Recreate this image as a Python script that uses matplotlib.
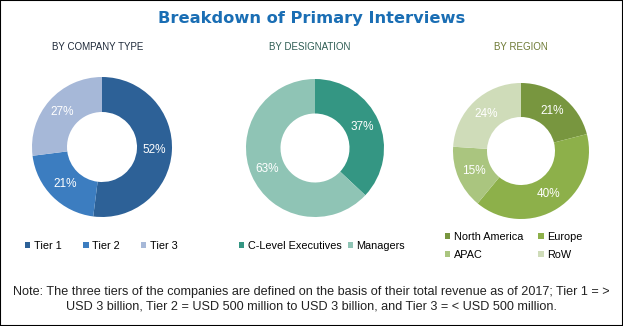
import matplotlib.pyplot as plt
from matplotlib.patches import Rectangle

W, H = 623, 326

# data
company_labels = ['Tier 1', 'Tier 2', 'Tier 3']
company_values = [52, 21, 27]
company_colors = ['#2d6197', '#3c7dc0', '#a6b8d8']

designation_labels = ['C-Level Executives', 'Managers']
designation_values = [37, 63]
designation_colors = ['#349683', '#8fc4b5']

region_labels = ['North America', 'Europe', 'APAC', 'RoW']
region_values = [21, 40, 15, 24]
region_colors = ['#78963f', '#8db04a', '#aac57f', '#cfdcb9']

note = ("Note: The three tiers of the companies are defined on the basis of their total revenue as of 2017; Tier 1 = >\n"
        "USD 3 billion, Tier 2 = USD 500 million to USD 3 billion, and Tier 3 = < USD 500 million.")

plt.rcParams['font.family'] = ['Liberation Sans', 'DejaVu Sans']

fig = plt.figure(figsize=(W / 100, H / 100), dpi=100)


def donut(cx, cy, r, values, colors):
    # cx, cy in pixels from top-left
    half = 78
    ax = fig.add_axes([(cx - half) / W, (H - cy - half) / H, 2 * half / W, 2 * half / H])
    wedges, _, autotexts = ax.pie(values, colors=colors, startangle=90, counterclock=False,
                                  radius=1, wedgeprops=dict(width=0.5, linewidth=0),
                                  autopct=lambda p: f'{p:.0f}%', pctdistance=0.75,
                                  textprops=dict(color='white', fontsize=8.5))
    lim = half / r
    ax.set_xlim(-lim, lim)
    ax.set_ylim(-lim, lim)
    ax.set_aspect('equal')
    ax.axis('off')
    return ax, wedges


ax1, w1 = donut(102, 147, 70, company_values, company_colors)
ax2, w2 = donut(315, 148, 69, designation_values, designation_colors)
ax3, w3 = donut(521, 151, 68, region_values, region_colors)

fig.text(0.5, 1 - 19 / H, 'Breakdown of Primary Interviews', ha='center', va='center',
         fontsize=11.7, fontweight='bold', color='#1a6eb4', family='DejaVu Sans')
fig.text(98 / W, 1 - 47 / H, 'BY COMPANY TYPE', ha='center', va='center', fontsize=7, color='#1f2a3a')
fig.text(310 / W, 1 - 47 / H, 'BY DESIGNATION', ha='center', va='center', fontsize=7, color='#2f5d54')
fig.text(521 / W, 1 - 47 / H, 'BY REGION', ha='center', va='center', fontsize=7, color='#6e7a35')

leg_kw = dict(frameon=False, fontsize=7.8, handlelength=0.5, handleheight=0.5,
              handletextpad=0.3, bbox_transform=fig.transFigure, borderpad=0, borderaxespad=0)

ax1.legend(w1, company_labels, ncol=3, loc='center left', columnspacing=2.0,
           bbox_to_anchor=(25 / W, 1 - 246 / H), **leg_kw)
ax2.legend(w2, designation_labels, ncol=2, loc='center left', columnspacing=0.6,
           bbox_to_anchor=(239 / W, 1 - 246 / H), **leg_kw)
order = [0, 2, 1, 3]
ax3.legend([w3[i] for i in order], [region_labels[i] for i in order], ncol=2, loc='center left',
           columnspacing=1.4, labelspacing=0.75,
           bbox_to_anchor=(445 / W, 1 - 246 / H), **leg_kw)

fig.text(0.5, 1 - 299 / H, note, ha='center', va='center', fontsize=9.1,
         color='#222222', linespacing=1.3)

fig.patches.append(Rectangle((0, 0), 1, 1, transform=fig.transFigure, fill=False,
                             edgecolor='black', linewidth=1.5))

fig.savefig('out.png', dpi=100)
